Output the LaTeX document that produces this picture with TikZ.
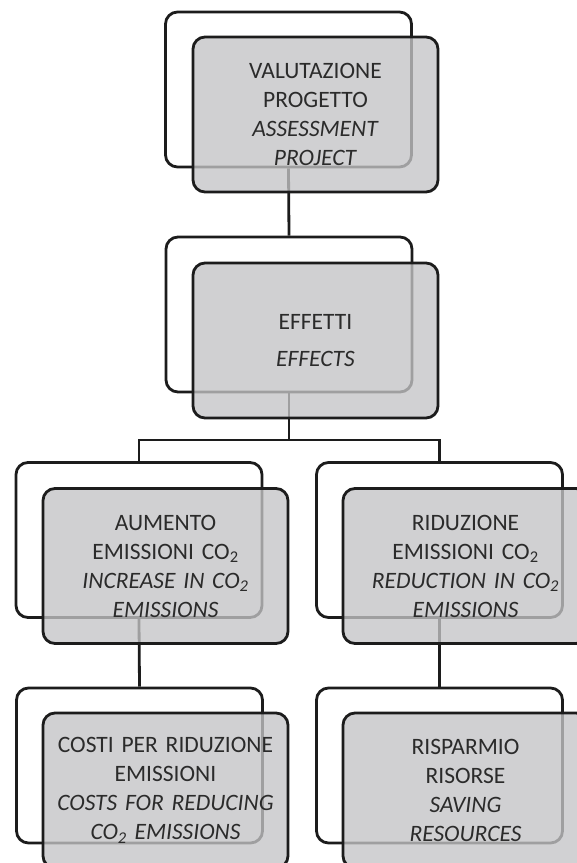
\documentclass[tikz,border=0pt]{standalone}
\usepackage{fontspec}
\setmainfont{Carlito}
\definecolor{lineC}{HTML}{1C1C1C}
\definecolor{textC}{HTML}{2B2B2B}
\definecolor{fillC}{HTML}{C4C4C6}
\begin{document}
\begin{tikzpicture}[x=1pt,y=-1pt,
  backbox/.style={draw=lineC, line width=2.8pt, fill=white, rounded corners=12pt,
    minimum width=246pt, minimum height=155pt, inner sep=0pt},
  frontbox/.style={draw=lineC, line width=2.8pt, fill=fillC, fill opacity=0.78, text opacity=1,
    rounded corners=12pt, minimum width=245pt, minimum height=155pt, inner sep=0pt,
    text width=240pt, align=center, text=textC,
    font=\fontsize{23.5pt}{29pt}\selectfont},
  conn/.style={draw=lineC, line width=2.8pt}]
\useasboundingbox (0,0) rectangle (577,863);
% back boxes
\node[backbox] (b1) at (288.5,89.5) {};
\node[backbox] (b2) at (289,314.5) {};
\node[backbox] (b3l) at (139,540) {};
\node[backbox] (b3r) at (439.5,540) {};
\node[backbox] (b4l) at (139.5,765.5) {};
\node[backbox] (b4r) at (439.5,765.5) {};
% connectors
\coordinate (split) at (289,440);
\draw[conn] (b1.south) -- (b2.north);
\draw[conn] (b2.south) -- (split);
\draw[conn] (b3l.north) |- (split) -| (b3r.north);
\draw[conn] (b3l.south) -- (b4l.north);
\draw[conn] (b3r.south) -- (b4r.north);
% front boxes
\node[frontbox] (f1) at (315.5,114.5) {VALUTAZIONE\\PROGETTO\\\textit{ASSESSMENT}\\\textit{PROJECT}};
\node[frontbox] (f2) at (315.5,340.5) {EFFETTI\\[8pt]\textit{EFFECTS}};
\node[frontbox] (f3l) at (165.5,566) {AUMENTO\\EMISSIONI CO\textsubscript{2}\\\textit{INCREASE IN CO\textsubscript{2}}\\\textit{EMISSIONS}};
\node[frontbox] (f3r) at (465.5,566) {RIDUZIONE\\EMISSIONI CO\textsubscript{2}\\\textit{REDUCTION IN CO\textsubscript{2}}\\\textit{EMISSIONS}};
\node[frontbox] (f4l) at (165.5,790.5) {COSTI PER RIDUZIONE\\EMISSIONI\\\textit{COSTS FOR REDUCING}\\\textit{CO\textsubscript{2} EMISSIONS}};
\node[frontbox] (f4r) at (465.5,790.5) {RISPARMIO\\RISORSE\\\textit{SAVING}\\\textit{RESOURCES}};
\end{tikzpicture}
\end{document}
